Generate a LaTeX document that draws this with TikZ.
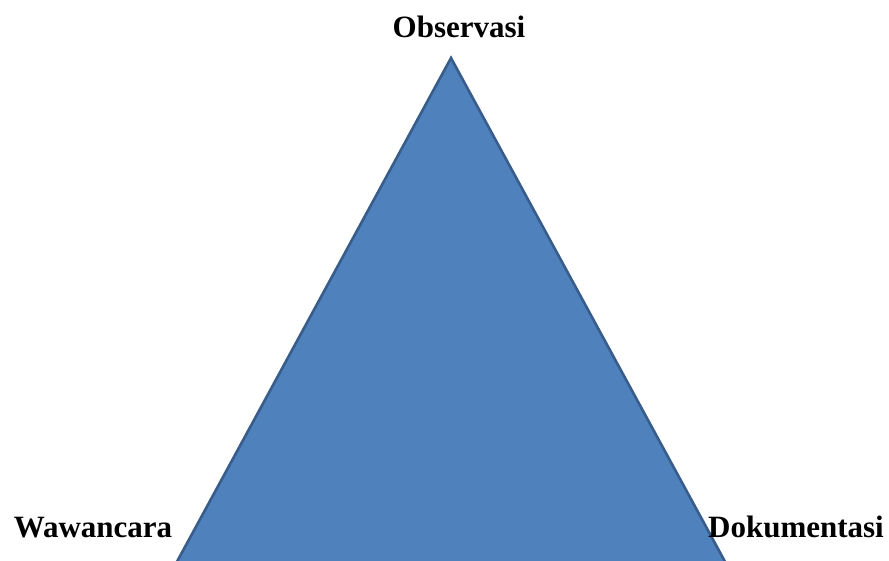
\documentclass[tikz,border=0pt]{standalone}
\usepackage{fontspec}
\setmainfont{Liberation Serif}
\usepackage{xcolor}
\definecolor{trifill}{HTML}{4F81BD}
\definecolor{triline}{HTML}{385D8A}
\usetikzlibrary{positioning}

\begin{document}
\begin{tikzpicture}[x=1pt, y=1pt, font=\fontsize{31}{36}\selectfont\bfseries]
  \useasboundingbox (0,0) rectangle (889,560);
  \tikzset{
    corner/.style={inner sep=0pt, anchor=base}
  }
  % triangle, base runs off the page
  \begin{scope}
    \clip (0,0) rectangle (889,560);
    \coordinate (apex) at (451,502);
    \coordinate (bl) at (167,-20);
    \coordinate (br) at (735,-20);
    \filldraw[fill=trifill, draw=triline, line width=2.6pt] (apex) -- (br) -- (bl) -- cycle;
  \end{scope}
  % labels
  \node[corner] (obs) at (459,522) {Observasi};
  \node[corner] (waw) at (93,23) {Wawancara};
  \node[corner] (dok) at (796,23) {Dokumentasi};
\end{tikzpicture}
\end{document}
